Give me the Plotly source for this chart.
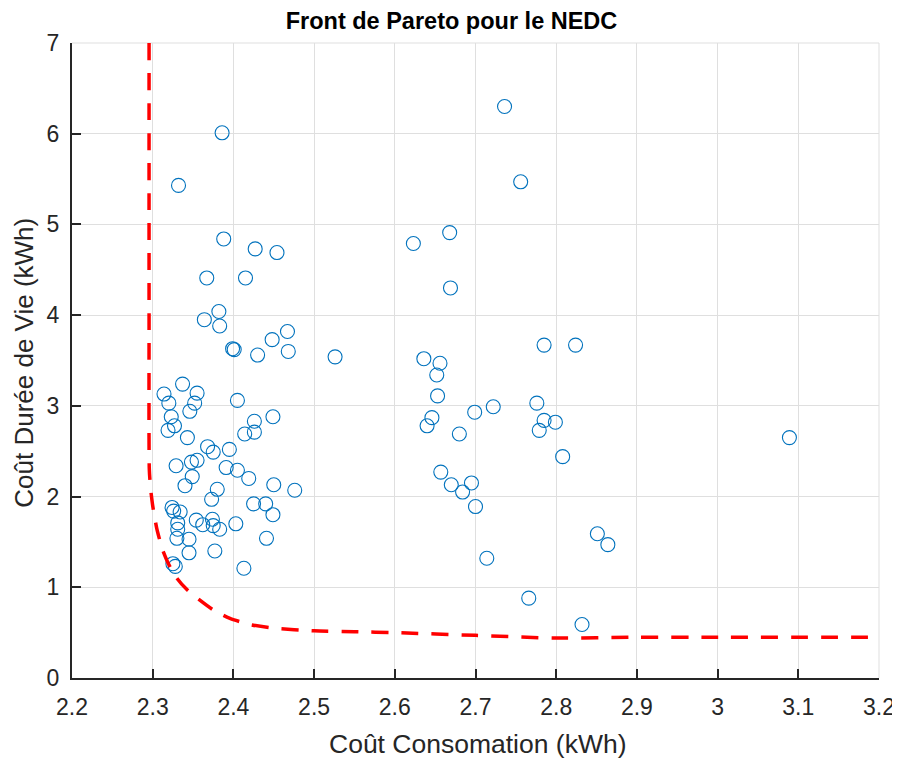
import plotly.graph_objects as go

# Solutions (scatter points)
cost_conso = [
    2.386, 2.332, 2.388, 2.427, 2.454, 2.367, 2.415, 2.382, 2.364, 2.383,
    2.467, 2.448, 2.399, 2.401, 2.468, 2.430, 2.526,
    2.337, 2.314, 2.355, 2.320, 2.352, 2.405, 2.346, 2.323, 2.426, 2.449,
    2.327, 2.319, 2.414, 2.426, 2.343, 2.368, 2.375, 2.395, 2.329, 2.348,
    2.355, 2.391, 2.405, 2.419, 2.349, 2.340, 2.450, 2.476, 2.380, 2.373,
    2.324, 2.326, 2.334, 2.425, 2.440, 2.449, 2.331, 2.331, 2.330, 2.354,
    2.362, 2.374, 2.375, 2.383, 2.403, 2.345, 2.441, 2.345, 2.377, 2.325,
    2.328, 2.413,
    2.736, 2.756, 2.623, 2.668, 2.669,
    2.785, 2.824, 2.636, 2.656, 2.652, 2.653, 2.646, 2.640, 2.699, 2.722,
    2.680, 2.776, 2.785, 2.799, 2.779, 2.808, 2.657, 2.670, 2.695, 2.684,
    2.700, 2.851, 2.864, 2.714, 2.766, 2.832,
    3.089,
]
cost_vie = [
    6.01, 5.43, 4.84, 4.73, 4.69, 4.41, 4.41, 4.04, 3.95, 3.88,
    3.82, 3.73, 3.63, 3.62, 3.60, 3.56, 3.54,
    3.24, 3.13, 3.14, 3.03, 3.03, 3.06, 2.94, 2.88, 2.83, 2.88,
    2.78, 2.73, 2.69, 2.71, 2.65, 2.55, 2.49, 2.52, 2.34, 2.38,
    2.40, 2.32, 2.29, 2.20, 2.22, 2.12, 2.13, 2.07, 2.08, 1.97,
    1.88, 1.84, 1.83, 1.92, 1.92, 1.80, 1.71, 1.64, 1.54, 1.74,
    1.69, 1.75, 1.68, 1.64, 1.70, 1.53, 1.54, 1.38, 1.40, 1.26,
    1.23, 1.21,
    6.30, 5.47, 4.79, 4.91, 4.30,
    3.67, 3.67, 3.52, 3.47, 3.34, 3.11, 2.87, 2.78, 2.93, 2.99,
    2.69, 3.03, 2.84, 2.82, 2.73, 2.44, 2.27, 2.13, 2.15, 2.05,
    1.89, 1.59, 1.47, 1.32, 0.88, 0.59,
    2.65,
]

# Pareto front
front_x = [2.2955, 2.2955, 2.2958, 2.2975, 2.300, 2.305, 2.312, 2.320, 2.330,
           2.343, 2.358, 2.375, 2.395, 2.420, 2.450, 2.500, 2.550, 2.600,
           2.700, 2.800, 2.900, 3.000, 3.200]
front_y = [7.00, 4.00, 2.30, 2.08, 1.90, 1.65, 1.42, 1.25, 1.10,
           0.97, 0.86, 0.75, 0.66, 0.59, 0.55, 0.52, 0.51, 0.50,
           0.47, 0.44, 0.45, 0.45, 0.45]

x_ticks = [2.2, 2.3, 2.4, 2.5, 2.6, 2.7, 2.8, 2.9, 3.0, 3.1, 3.2]
x_tick_labels = ["2.2", "2.3", "2.4", "2.5", "2.6", "2.7", "2.8", "2.9", "3", "3.1", "3.2"]
y_ticks = [0, 1, 2, 3, 4, 5, 6, 7]

title_text = "Front de Pareto pour le NEDC"
x_label = "Coût Consomation (kWh)"
y_label = "Coût Durée de Vie (kWh)"

axis_col = "#262626"
grid_col = "#dfdfdf"
FONT = "Liberation Sans, Arial, Helvetica, sans-serif"

# page layout (page pixels); the html body adds an 8px offset
OFF = 8
W, H = 900 - OFF, 760 - OFF
P_LEFT, P_RIGHT, P_TOP, P_BOTTOM = 72, 879, 43, 678.5
L, T = P_LEFT - OFF, P_TOP - OFF
R = W - (P_RIGHT - OFF)
B = H - (P_BOTTOM - OFF)
PW, PH = P_RIGHT - P_LEFT, P_BOTTOM - P_TOP

fig = go.Figure()
fig.add_trace(go.Scatter(
    x=cost_conso, y=cost_vie, mode="markers",
    marker=dict(symbol="circle-open", size=14, color="#0072BD",
                line=dict(width=1.1, color="#0072BD")),
    showlegend=False, cliponaxis=False,
))
fig.add_trace(go.Scatter(
    x=front_x, y=front_y, mode="lines",
    line=dict(color="#FF0000", width=3.5, dash="17px,13px", shape="spline", smoothing=0.6),
    showlegend=False,
))

fig.update_layout(
    width=W, height=H,
    margin=dict(l=L, r=R, t=T, b=B, autoexpand=False),
    paper_bgcolor="white", plot_bgcolor="white",
    title=dict(text="<b>" + title_text + "</b>",
               font=dict(family=FONT, size=23.5, color="#000000"),
               x=(451.5 - OFF) / W, xanchor="center",
               y=1 - (21 - OFF) / H, yanchor="middle"),
    font=dict(family=FONT, color=axis_col),
    annotations=[
        dict(text=x_label, xref="paper", yref="paper",
             x=(478 - P_LEFT) / PW, y=(P_BOTTOM - 745) / PH,
             xanchor="center", yanchor="middle", showarrow=False,
             font=dict(family=FONT, size=26.5, color=axis_col)),
        dict(text=y_label, xref="paper", yref="paper",
             x=(24 - P_LEFT) / PW, y=(P_BOTTOM - 363) / PH,
             xanchor="center", yanchor="middle", showarrow=False, textangle=-90,
             font=dict(family=FONT, size=26, color=axis_col)),
    ],
    shapes=[
        dict(type="line", xref="paper", yref="paper", x0=0, x1=1, y0=1, y1=1,
             line=dict(color=grid_col, width=1), layer="below"),
        dict(type="line", xref="paper", yref="paper", x0=1, x1=1, y0=0, y1=1,
             line=dict(color=grid_col, width=1), layer="below"),
    ],
)
fig.update_xaxes(
    range=[2.2, 3.2], tickvals=x_ticks, ticktext=x_tick_labels,
    showgrid=True, gridcolor=grid_col, gridwidth=1,
    showline=True, linecolor=axis_col, linewidth=2,
    ticks="inside", ticklen=9, tickwidth=2, tickcolor=axis_col,
    tickfont=dict(family=FONT, size=23, color=axis_col), ticklabelstandoff=7,
    zeroline=False, mirror=False, automargin=False,
)
fig.update_yaxes(
    range=[0, 7], tickvals=y_ticks,
    showgrid=True, gridcolor=grid_col, gridwidth=1,
    showline=True, linecolor=axis_col, linewidth=2,
    ticks="inside", ticklen=9, tickwidth=2, tickcolor=axis_col,
    tickfont=dict(family=FONT, size=23, color=axis_col), ticklabelstandoff=6,
    zeroline=False, mirror=False, automargin=False,
)

fig.write_html("out.html")
